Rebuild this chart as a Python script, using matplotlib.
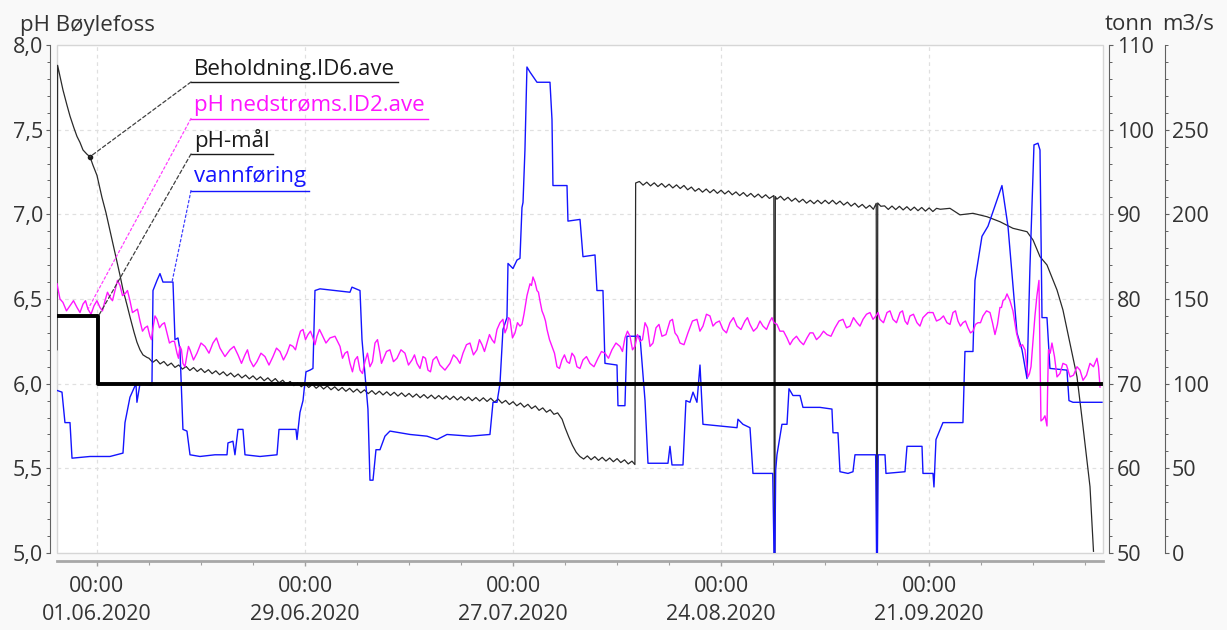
import numpy as np
import pandas as pd
import matplotlib
matplotlib.use('Agg')
import matplotlib.pyplot as plt
import matplotlib.dates as mdates
from matplotlib.ticker import MultipleLocator, FuncFormatter, FixedLocator
from matplotlib.patches import ConnectionPatch
from matplotlib.lines import Line2D

plt.rcParams['font.family'] = ['Open Sans', 'DejaVu Sans']

# ---------------- data (days since 2020-06-01 00:00) ----------------
BASE = pd.Timestamp('2020-06-01')
x_start, x_end = -5.38, 135.40

tick_dates = ['2020-06-01', '2020-06-29', '2020-07-27', '2020-08-24', '2020-09-21']
tick_labels = ['00:00\n01.06.2020', '00:00\n29.06.2020', '00:00\n27.07.2020',
               '00:00\n24.08.2020', '00:00\n21.09.2020']

# pH-mål (pH)
maal_days = [-5.38, 0.20, 135.10]
maal_ph = [6.4, 6.0, 6.0]

# vannføring (m3/s)
vann = [(-5.38,96),(-4.71,95),(-4.31,77),(-3.63,77),(-3.36,56),(-0.94,57),(1.75,57),(3.50,59),(3.77,77),(4.44,92),
        (5.25,100),(5.38,89),(5.79,100),(7.40,99),(7.54,155),(8.08,161),(8.48,165),(8.88,160),(10.23,160),(10.50,126),
        (10.90,127),(11.17,120),(11.57,73),(12.11,72),(12.52,58),(13.86,57),(15.88,58),(17.50,58),(17.63,65),(18.30,66),
        (18.57,58),(18.98,73),(19.65,73),(19.92,58),(21.94,57),(24.23,58),(24.50,73),(26.78,73),(26.92,67),(27.32,83),
        (27.73,90),(28.13,107),(28.67,108),(29.07,109),(29.34,155),(30.01,156),(32.03,155),(34.05,154),(34.32,157),(35.40,155),
        (35.67,126),(36.34,92),(36.47,85),(36.74,43),(37.15,43),(37.55,61),(38.09,61),(38.76,69),(39.43,72),(42.13,70),
        (44.41,69),(45.76,67),(47.11,70),(50.20,69),(52.89,70),(53.30,89),(53.84,89),(54.24,100),(54.64,132),(55.18,139),
        (55.32,171),(55.99,168),(56.53,173),(56.93,174),(57.20,204),(57.34,207),(57.60,238),(57.87,287),(58.28,284),(59.22,278),
        (60.97,278),(61.24,256),(61.37,217),(63.26,217),(63.39,196),(65.01,197),(65.41,175),(67.03,176),(67.29,155),(68.10,155),
        (68.37,112),(69.99,111),(70.12,87),(71.06,87),(71.33,128),(73.08,128),(73.76,90),(74.16,53),(76.85,53),(77.12,63),
        (77.39,52),(78.87,52),(79.27,90),(79.81,89),(80.22,95),(80.75,89),(81.16,111),(81.56,76),(86.14,74),(86.27,79),
        (86.94,76),(87.89,74),(88.29,47),(90.95,47),(91.12,0),(91.24,0),(91.35,49),(91.52,58),(92.19,76),(92.87,76),
        (93.14,97),(93.67,93),(94.62,93),(95.02,86),(97.31,86),(98.92,85),(99.06,71),(99.73,71),(100.00,48),(101.08,47),
        (101.75,48),(102.02,58),(104.80,58),(104.92,0),(105.04,0),(105.15,58),(106.06,58),(106.19,47),(108.75,48),(109.02,63),
        (111.04,63),(111.17,47),(112.52,47),(112.65,39),(112.92,67),(113.86,77),(116.55,77),(116.82,119),(117.90,119),(118.17,161),
        (119.11,187),(119.92,193),(121.80,217),(122.61,193),(123.82,130),(124.50,120),(125.17,103),(125.57,169),(126.11,241),(126.65,242),
        (126.92,238),(127.19,139),(127.86,139),(128.26,109),(130.55,108),(130.82,90),(131.36,89),(132.71,89),(135.26,89)]

# pH nedstrøms (pH): main readings
ph_ned = [(-5.38,6.59),(-4.58,6.48),(-3.63,6.46),(-2.69,6.45),(-1.88,6.47),(-1.21,6.44),(-0.40,6.46),(0.40,6.45),(1.08,6.49),(1.75,6.51),
          (2.42,6.55),(3.10,6.58),(3.77,6.53),(4.44,6.49),(5.11,6.43),(5.79,6.37),(6.46,6.33),(7.13,6.28),(7.54,6.33),(8.08,6.38),
          (8.75,6.35),(9.42,6.30),(10.09,6.25),(10.77,6.18),(11.17,6.22),(11.57,6.12),(12.11,6.17),(12.52,6.20),(13.46,6.18),(14.54,6.22),
          (15.61,6.24),(16.55,6.21),(17.90,6.20),(18.98,6.17),(19.92,6.17),(20.59,6.14),(21.53,6.13),(22.61,6.16),(23.69,6.16),(24.63,6.19),
          (25.57,6.18),(26.38,6.22),(27.05,6.26),(27.73,6.32),(28.40,6.29),(29.07,6.27),(29.61,6.28),(30.28,6.29),(31.36,6.27),(32.71,6.22),
          (33.38,6.18),(34.05,6.12),(34.72,6.14),(35.40,6.08),(36.07,6.13),(36.74,6.10),(37.42,6.24),(38.09,6.18),(38.49,6.14),(39.43,6.20),
          (40.38,6.15),(41.45,6.18),(42.40,6.14),(43.07,6.12),(43.88,6.16),(44.55,6.08),(45.22,6.14),(46.16,6.11),(47.51,6.12),(48.45,6.15),
          (49.26,6.18),(50.20,6.24),(51.14,6.20),(51.82,6.23),(52.49,6.24),(53.16,6.26),(53.84,6.32),(54.64,6.38),(55.18,6.33),(55.59,6.38),
          (56.26,6.30),(56.93,6.34),(57.47,6.41),(58.28,6.59),(58.68,6.63),(59.22,6.55),(59.62,6.49),(60.16,6.40),(60.57,6.32),(61.24,6.22),
          (61.91,6.10),(62.58,6.14),(63.26,6.13),(63.93,6.18),(64.60,6.10),(65.41,6.14),(66.35,6.12),(67.43,6.15),(68.37,6.18),(69.31,6.20),
          (70.39,6.22),(71.06,6.27),(71.74,6.28),(72.41,6.22),(73.08,6.25),(73.76,6.36),(74.43,6.22),(75.24,6.33),(76.04,6.28),(77.12,6.37),
          (77.79,6.30),(78.47,6.24),(79.54,6.30),(80.75,6.38),(81.56,6.34),(82.50,6.40),(83.31,6.36),(84.25,6.32),(85.19,6.36),(86.14,6.34),
          (87.21,6.37),(87.89,6.35),(88.83,6.33),(89.64,6.34),(90.58,6.37),(91.12,6.36),(91.92,6.31),(92.87,6.27),(93.67,6.26),(94.62,6.25),
          (95.56,6.27),(96.37,6.30),(97.31,6.28),(98.25,6.29),(99.33,6.33),(100.40,6.38),(101.35,6.34),(102.29,6.36),(103.10,6.38),(104.04,6.42),
          (104.85,6.40),(105.38,6.38),(106.33,6.42),(107.13,6.38),(108.08,6.42),(108.75,6.37),(109.42,6.40),(110.36,6.36),(111.17,6.39),(112.52,6.42),
          (113.46,6.38),(114.40,6.36),(115.21,6.42),(115.88,6.37),(116.55,6.36),(117.23,6.33),(117.90,6.31),(118.57,6.36),(119.25,6.40),(120.19,6.42),
          (120.86,6.29),(121.53,6.45),(121.94,6.49),(122.48,6.53),(123.28,6.43),(124.23,6.22),(124.90,6.20),(125.30,6.04),(125.71,6.10),(126.24,6.40),
          (126.78,6.61),(127.05,5.78),(127.59,5.81),(127.86,5.75),(128.06,6.20),(128.53,6.24),(129.21,6.04),(130.01,6.12),(130.96,6.04),(131.90,6.10),
          (132.71,6.02),(133.65,6.12),(134.59,6.15),(135.00,5.98)]
# pH nedstrøms: readings halfway between the main readings (short-period fluctuation)
ph_ned_between = [6.50,6.43,6.49,6.42,6.49,6.41,6.49,6.43,6.54,6.49,
                  6.61,6.52,6.55,6.42,6.44,6.31,6.34,6.26,6.40,6.33,
                  6.36,6.24,6.25,6.15,6.20,6.10,6.22,6.14,6.24,6.18,
                  6.27,6.16,6.22,6.12,6.20,6.10,6.18,6.11,6.21,6.14,
                  6.23,6.20,6.31,6.26,6.31,6.23,6.32,6.24,6.28,6.15,
                  6.19,6.07,6.16,6.06,6.18,6.13,6.26,6.12,6.19,6.13,
                  6.20,6.11,6.17,6.09,6.15,6.07,6.16,6.08,6.17,6.12,
                  6.23,6.17,6.26,6.19,6.29,6.24,6.36,6.30,6.39,6.27,
                  6.36,6.35,6.52,6.58,6.60,6.54,6.43,6.37,6.26,6.18,
                  6.09,6.17,6.12,6.16,6.09,6.16,6.10,6.19,6.15,6.24,
                  6.19,6.31,6.20,6.29,6.26,6.33,6.24,6.35,6.29,6.38,
                  6.28,6.23,6.37,6.31,6.41,6.34,6.37,6.30,6.39,6.32,
                  6.39,6.31,6.37,6.32,6.39,6.35,6.31,6.23,6.28,6.23,
                  6.30,6.26,6.31,6.28,6.37,6.33,6.39,6.34,6.41,6.38,
                  6.42,6.36,6.43,6.36,6.43,6.35,6.41,6.34,6.42,6.37,
                  6.40,6.35,6.43,6.34,6.37,6.30,6.35,6.36,6.43,6.36,
                  6.35,6.45,6.50,6.49,6.30,6.23,6.12,6.06,6.25,6.52,
                  6.20,5.79,5.78,6.00,6.18,6.16,6.06,6.11,6.05,6.08,
                  6.05,6.10,6.10]

# Beholdning (tonn)
beh_start = [(-5.38,74.0),(-5.30,107.6),(-4.58,104.7),(-4.04,102.9),(-3.63,101.6),(-3.10,100.2),(-2.69,99.2),(-2.29,98.5),
             (-1.88,97.6),(-1.35,97.1),(-0.94,96.8),(-0.54,95.8),(0.00,94.6),(0.67,92.0),(1.21,90.2),(1.75,88.1),(2.29,86.0),
             (2.69,84.4),(3.10,82.8),(3.50,81.1),(4.04,79.3),(4.44,77.9),(4.98,76.1),(5.38,74.9),(5.79,74.0),(6.19,73.4),(6.73,73.1)]
# half-daily readings 7.0 ... 62.0
beh_saw1 = [73.00,72.52,72.84,72.33,72.62,72.12,72.43,71.92,72.21,71.72,
            72.03,71.56,71.90,71.44,71.78,71.32,71.65,71.18,71.52,71.06,
            71.40,70.93,71.26,70.80,71.14,70.68,71.02,70.57,70.92,70.46,
            70.81,70.35,70.69,70.24,70.60,70.10,70.41,69.93,70.26,69.77,
            70.09,69.64,70.00,69.55,69.91,69.46,69.81,69.37,69.73,69.28,
            69.63,69.19,69.55,69.10,69.45,69.00,69.36,68.91,69.27,68.82,
            69.18,68.74,69.11,68.67,69.04,68.61,68.98,68.54,68.91,68.48,
            68.85,68.41,68.78,68.34,68.71,68.28,68.65,68.22,68.60,68.17,
            68.55,68.13,68.51,68.08,68.46,68.04,68.42,67.99,68.37,67.95,
            68.33,67.90,68.28,67.83,68.18,67.70,68.02,67.54,67.87,67.39,
            67.71,67.23,67.56,67.06,67.37,66.85,67.14,66.63,66.92,66.38,
            66.55]
beh_mid = [(62.6,65.8),(63.0,64.8),(63.5,63.7),(64.0,62.7),(64.5,61.9),(65.0,61.4)]
# half-daily readings 65.5 ... 72.0
beh_saw2 = [61.10,61.47,61.02,61.38,60.94,61.30,60.86,61.22,60.78,61.15,60.68,61.00,60.52,60.85]
beh_jump = [(72.40,60.45),(72.50,93.70)]
# half-daily readings 73.0 ... 90.5
beh_saw3 = [93.88,93.45,93.80,93.36,93.72,93.28,93.64,93.20,93.56,93.12,93.48,93.05,93.41,92.90,93.22,92.73,93.05,92.62,
            92.99,92.55,92.92,92.48,92.85,92.41,92.77,92.31,92.65,92.21,92.57,92.12,92.47,92.03,92.39,91.95,92.31,91.88]
beh_dip1 = [(91.10,92.22),(91.16,50.0),(91.24,50.0),(91.30,92.10),(91.50,91.79)]
# half-daily readings 92.0 ... 104.5
beh_saw4 = [92.13,91.67,92.01,91.55,91.90,91.44,91.78,91.32,91.66,91.26,91.66,91.26,91.66,91.26,91.66,91.21,91.56,91.10,
            91.44,90.97,91.31,90.84,91.17,90.72,91.06,90.60]
beh_dip2 = [(104.88,91.30),(104.94,50.0),(105.02,50.0),(105.08,91.34)]
# half-daily readings 105.5 ... 113.5
beh_saw5 = [90.95,91.00,90.58,90.98,90.56,90.95,90.52,90.90,90.47,90.85,90.43,90.81,90.38,90.76,90.33,90.71,90.60]
beh_end = [(114.80,90.71),(116.15,89.94),(117.90,90.12),(119.78,89.72),(121.53,89.13),(123.28,88.35),(125.17,87.95),
           (125.98,86.97),(126.92,85.00),(127.86,84.02),(129.21,81.06),(130.01,78.70),(130.96,74.77),(131.90,70.82),
           (132.71,64.92),(133.65,57.83),(134.12,50.2)]

def half_daily(first_day, vals):
    return [(first_day + 0.5 * i, v) for i, v in enumerate(vals)]

beh = (beh_start + half_daily(7.0, beh_saw1) + beh_mid + half_daily(65.5, beh_saw2) + beh_jump
       + half_daily(73.0, beh_saw3) + beh_dip1 + half_daily(92.0, beh_saw4) + beh_dip2
       + half_daily(105.5, beh_saw5) + beh_end)

# merge pH readings with the in-between readings
ph_all = []
n_between = min(len(ph_ned_between), len(ph_ned) - 1)
for i in range(len(ph_ned)):
    ph_all.append(ph_ned[i])
    if i < n_between:
        ph_all.append((0.5 * (ph_ned[i][0] + ph_ned[i + 1][0]), ph_ned_between[i]))

def to_dates(days):
    return BASE + pd.to_timedelta(np.asarray(days, float), unit='D')

def split(pairs):
    d, v = zip(*pairs)
    return to_dates(d), np.array(v, float)

vann_t, vann_v = split(vann)
ph_t, ph_v = split(ph_all)
beh_t, beh_v = split(beh)
maal_t = to_dates(maal_days)

# ---------------- figure ----------------
W, H = 1227, 630
PX = 72 / 100  # points per pixel
fig = plt.figure(figsize=(W / 100, H / 100), dpi=100, facecolor='#f9f9f9')
ax = fig.add_axes([57 / W, 1 - 553 / H, 1046 / W, 508 / H])
ax_t = ax.twinx()
ax_m = ax.twinx()

ax_t.set_zorder(1)
ax_m.set_zorder(2)
ax.set_zorder(3)
ax.patch.set_visible(False)
ax_m.patch.set_visible(False)
ax_t.patch.set_visible(True)
ax_t.patch.set_facecolor('white')
ax_t.patch.set_edgecolor('#d6d6d6')
ax_t.patch.set_linewidth(1.0)

ax.set_ylim(5.0, 8.0)
ax_t.set_ylim(50, 110)
ax_m.set_ylim(0, 300)
ax.set_xlim(to_dates([x_start])[0], to_dates([x_end])[0])

# grid (drawn in the lowest axes)
for td in pd.to_datetime(tick_dates):
    ax_t.axvline(td, color='#e0e0e0', lw=0.9, ls=(0, (3, 3)), zorder=0)
for gy in [60, 70, 80, 90, 100]:
    ax_t.axhline(gy, color='#e0e0e0', lw=0.9, ls=(0, (3, 3)), zorder=0)

# series
ax_t.plot(beh_t, beh_v, color='#2a2a2a', lw=0.9, zorder=3)
ax_m.plot(vann_t, vann_v, color='#1414ff', lw=1.0, zorder=3)
ax.plot(ph_t, ph_v, color='#ff14ff', lw=1.0, zorder=3)
ax.plot(maal_t, maal_ph, color='black', lw=2.8, drawstyle='steps-post', zorder=5)

# spines
for a in (ax, ax_t, ax_m):
    for s in a.spines.values():
        s.set_visible(False)
ax.spines['left'].set_visible(True)
ax.spines['left'].set_position(('outward', 7 * PX))
ax.spines['left'].set_color('#606060')
ax.spines['bottom'].set_visible(True)
ax.spines['bottom'].set_position(('outward', 8 * PX))
ax.spines['bottom'].set_color('#a8a8a8')
ax.spines['bottom'].set_linewidth(2.0)
ax_t.spines['right'].set_visible(True)
ax_t.spines['right'].set_position(('outward', 6 * PX))
ax_t.spines['right'].set_color('#606060')
ax_m.spines['right'].set_visible(True)
ax_m.spines['right'].set_position(('outward', 62 * PX))
ax_m.spines['right'].set_color('#606060')

# ticks
tick_col = '#333333'
ax.yaxis.set_major_locator(MultipleLocator(0.5))
ax.yaxis.set_minor_locator(MultipleLocator(0.1))
ax.yaxis.set_major_formatter(FuncFormatter(lambda v, p: f"{v:.1f}".replace('.', ',')))
ax_t.yaxis.set_major_locator(MultipleLocator(10))
ax_t.yaxis.set_minor_locator(MultipleLocator(2))
ax_m.set_yticks([0, 50, 100, 150, 200, 250])
ax_m.yaxis.set_minor_locator(MultipleLocator(10))
for a in (ax, ax_t, ax_m):
    a.tick_params(axis='y', which='major', length=4 * PX, width=0.8, color='#606060',
                  labelsize=15.5, labelcolor=tick_col, pad=3 * PX)
    a.tick_params(axis='y', which='minor', length=3 * PX, width=0.7, color='#606060')
ax_t.tick_params(axis='y', which='major', pad=4 * PX)

ax.xaxis.set_major_locator(FixedLocator(mdates.date2num(pd.to_datetime(tick_dates))))
ax.xaxis.set_minor_locator(mdates.WeekdayLocator(byweekday=mdates.MO))
ax.set_xticklabels(tick_labels)
ax.tick_params(axis='x', which='major', length=5 * PX, width=1.0, color='#a0a0a0',
               labelsize=15.5, labelcolor=tick_col, pad=10 * PX)
ax.tick_params(axis='x', which='minor', length=4 * PX, width=0.8, color='#a0a0a0')
for lab in ax.get_xticklabels():
    lab.set_linespacing(1.45)

# axis titles
fig.text(20 / W, 1 - 25 / H, 'pH Bøylefoss', fontsize=16, color=tick_col, ha='left', va='center')
fig.text(1129 / W, 1 - 25 / H, 'tonn', fontsize=16, color=tick_col, ha='center', va='center')
fig.text(1188 / W, 1 - 25 / H, 'm3/s', fontsize=16, color=tick_col, ha='center', va='center')

# labels with underline and leader lines
labels = [
    ('Beholdning.ID6.ave', '#1a1a1a', '#404040', (0, (3, 2)), 75, 82, ax_t, (-0.94, 96.8)),
    ('pH nedstrøms.ID2.ave', '#ff14ff', '#ff40ff', (0, (2, 2)), 111, 118.5, ax, (-1.21, 6.44)),
    ('pH-mål', '#1a1a1a', '#404040', (0, (3, 2)), 147, 154, ax, (0.20, 6.40)),
    ('vannføring', '#1414ff', '#4040ff', (0, (2, 2)), 182, 190.5, ax_m, (10.1, 160)),
]
fig.canvas.draw()
renderer = fig.canvas.get_renderer()
for text, tcol, lcol, ls, ybase, yline, tax, (dday, dval) in labels:
    tx = (194 - 57) / 1046
    ty = (553 - ybase) / 508
    t = ax.text(tx, ty, text, transform=ax.transAxes, fontsize=16, color=tcol,
                ha='left', va='baseline', zorder=10)
    bb = t.get_window_extent(renderer=renderer)
    inv = ax.transAxes.inverted()
    x0 = inv.transform((bb.x0 - 3, 0))[0]
    x1 = inv.transform((bb.x1 + 3, 0))[0]
    uy = (553 - yline) / 508
    ax.add_line(Line2D([x0, x1], [uy, uy], transform=ax.transAxes, color=tcol, lw=1.0, zorder=10))
    dnum = mdates.date2num(to_dates([dday])[0])
    cp = ConnectionPatch(xyA=(x0, uy), coordsA=ax.transAxes, xyB=(dnum, dval), coordsB=tax.transData,
                         color=lcol, lw=0.9, ls=ls, zorder=10)
    ax.add_artist(cp)

dnum = mdates.date2num(to_dates([-0.94])[0])
ax_t.plot([dnum], [96.8], 'o', color='#1a1a1a', ms=3, zorder=6)

fig.savefig('out.png', dpi=100, facecolor=fig.get_facecolor())
